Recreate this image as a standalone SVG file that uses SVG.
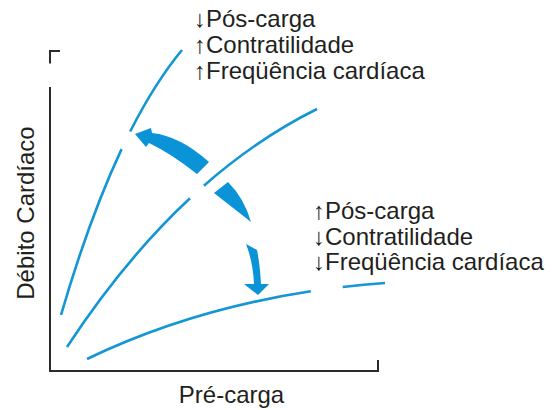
<svg xmlns="http://www.w3.org/2000/svg" width="557" height="410" viewBox="0 0 557 410">
<style>
.ax{fill:none;stroke:#2b2b2b;stroke-width:2}
.cv{fill:none;stroke:#1496d4;stroke-width:2.6;stroke-linecap:butt}
.ar{fill:#0a93d6;stroke:none}
.t{font-family:"Liberation Sans",Arial,sans-serif;font-size:24px;fill:#231f20}
</style>
<rect width="557" height="410" fill="#fff"/>
<g id="axes">
<path class="ax" d="M50,63.5 V51 H60"/>
<path class="ax" d="M50,87 V371 H378 V360"/>
</g>
<g id="curves">
<g id="curve-high">
<path class="cv" d="M61,315 Q89.4,217.7 121.6,149.1"/>
<path class="cv" d="M130.2,131.5 Q155,82.6 182,50"/>
</g>
<g id="curve-mid">
<path class="cv" d="M67,347 Q124.7,259.1 190,198.3"/>
<path class="cv" d="M203.9,185.7 Q257.9,138.3 317,109"/>
</g>
<g id="curve-low">
<path class="cv" d="M87,359 Q189.4,309.7 310.8,291.3"/>
<path class="cv" d="M342.7,287 Q363.6,284.6 385,283"/>
</g>
</g>
<g id="connectors">
<path class="ar" d="M135,134 L151,128 L152,133 Q180,136 209,162 L197,174 Q171,153.5 149,143 L146,147 Z"/>
<path class="ar" d="M214,193 L228,182 Q244,198 251,222 Z"/>
<path class="ar" d="M246,244 L257,250 Q260,265 261,284 L269,284 L258,295 L244,284 L254,284 Q253,262 246,244 Z"/>
</g>
<g id="label-top">
<text class="t" x="194" y="27">↓Pós-carga</text>
<text class="t" x="194" y="53">↑Contratilidade</text>
<text class="t" x="194" y="79">↑Freqüência cardíaca</text>
</g>
<g id="label-bottom">
<text class="t" x="313" y="219">↑Pós-carga</text>
<text class="t" x="313" y="244.5">↓Contratilidade</text>
<text class="t" x="313" y="270">↓Freqüência cardíaca</text>
</g>
<g id="axis-labels">
<text class="t" x="231.5" y="403" text-anchor="middle">Pré-carga</text>
<text class="t" transform="translate(33.5,213) rotate(-90)" text-anchor="middle">Débito Cardíaco</text>
</g>
</svg>
